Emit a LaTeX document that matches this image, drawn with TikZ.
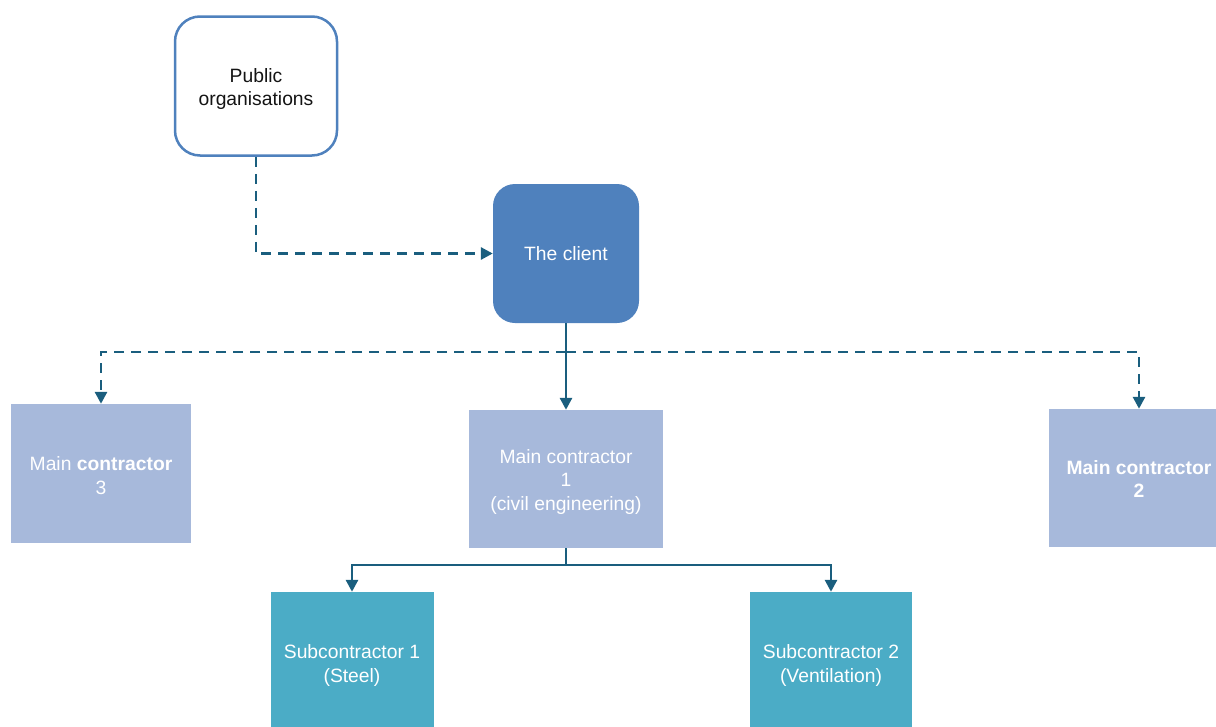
\documentclass[tikz,border=0pt]{standalone}
\usepackage{fontspec}
\setmainfont{Liberation Sans}
\usetikzlibrary{arrows.meta}
\definecolor{orgblue}{RGB}{79,129,189}
\definecolor{mainfill}{RGB}{167,185,219}
\definecolor{subfill}{RGB}{75,172,198}
\definecolor{linkcol}{RGB}{26,94,126}
\definecolor{inktext}{RGB}{20,20,20}
\tikzset{
  shapebox/.style={inner sep=0pt, anchor=center},
  boxtext/.style={font=\fontsize{19.3}{23.3}\selectfont, align=center, inner sep=0pt, anchor=center, text=white},
  orgbox/.style={shapebox, draw=orgblue, line width=2.5pt, fill=white, rounded corners=25pt},
  clientbox/.style={shapebox, fill=orgblue, rounded corners=22pt},
  mainbox/.style={shapebox, fill=mainfill},
  subbox/.style={shapebox, fill=subfill},
  link/.style={draw=linkcol, line width=2.8pt},
  conn/.style={link, -{Triangle[length=12pt,width=12pt]}},
  dashconn/.style={conn, dash pattern=on 10pt off 7pt}
}
\begin{document}
\begin{tikzpicture}[x=1pt,y=-1pt]
  \useasboundingbox (0,0) rectangle (1216,726);
  \clip (0,0) rectangle (1216,726);

  % boxes
  \node[orgbox, minimum width=162pt, minimum height=139pt] (pub) at (256,86) {};
  \node[clientbox, minimum width=146pt, minimum height=139pt] (client) at (566,253.5) {};
  \node[mainbox, minimum width=180pt, minimum height=139pt] (mc3) at (101,473.5) {};
  \node[mainbox, minimum width=194pt, minimum height=138pt] (mc1) at (566,479) {};
  \node[mainbox, minimum width=180pt, minimum height=138pt] (mc2) at (1139,478) {};
  \node[subbox, minimum width=163pt, minimum height=141pt] (sub1) at (352,662.5) {};
  \node[subbox, minimum width=162pt, minimum height=141pt] (sub2) at (831,662.5) {};

  % box texts
  \node[boxtext, text=inktext, yshift=-3pt] (pub-t) at (pub.center) {Public\\organisations};
  \node[boxtext] (client-t) at (client.center) {The client};
  \node[boxtext, yshift=-2pt] (mc3-t) at (mc3.center) {Main \textbf{contractor}\\3};
  \node[boxtext, yshift=-3pt] (mc1-t) at (mc1.center) {Main contractor\\1\\(civil engineering)};
  \node[boxtext, yshift=-1pt] (mc2-t) at (mc2.center) {\textbf{Main contractor}\\\textbf{2}};
  \node[boxtext, yshift=-3pt] (sub1-t) at (sub1.center) {Subcontractor 1\\(Steel)};
  \node[boxtext, yshift=-3pt] (sub2-t) at (sub2.center) {Subcontractor 2\\(Ventilation)};

  % junction points of the branching connectors
  \coordinate (split) at (566,352);
  \coordinate (subsplit) at (566,565);

  % connectors
  \draw[dashconn] (pub.south) |- (client.west);
  \draw[conn] (client.south) -- (mc1.north);
  \draw[dashconn] (split) -| (mc3.north);
  \draw[dashconn] (split) -| (mc2.north);
  \draw[link] (mc1.south) -- (subsplit);
  \draw[conn] (subsplit) -| (sub1.north);
  \draw[conn] (subsplit) -| (sub2.north);
\end{tikzpicture}
\end{document}
